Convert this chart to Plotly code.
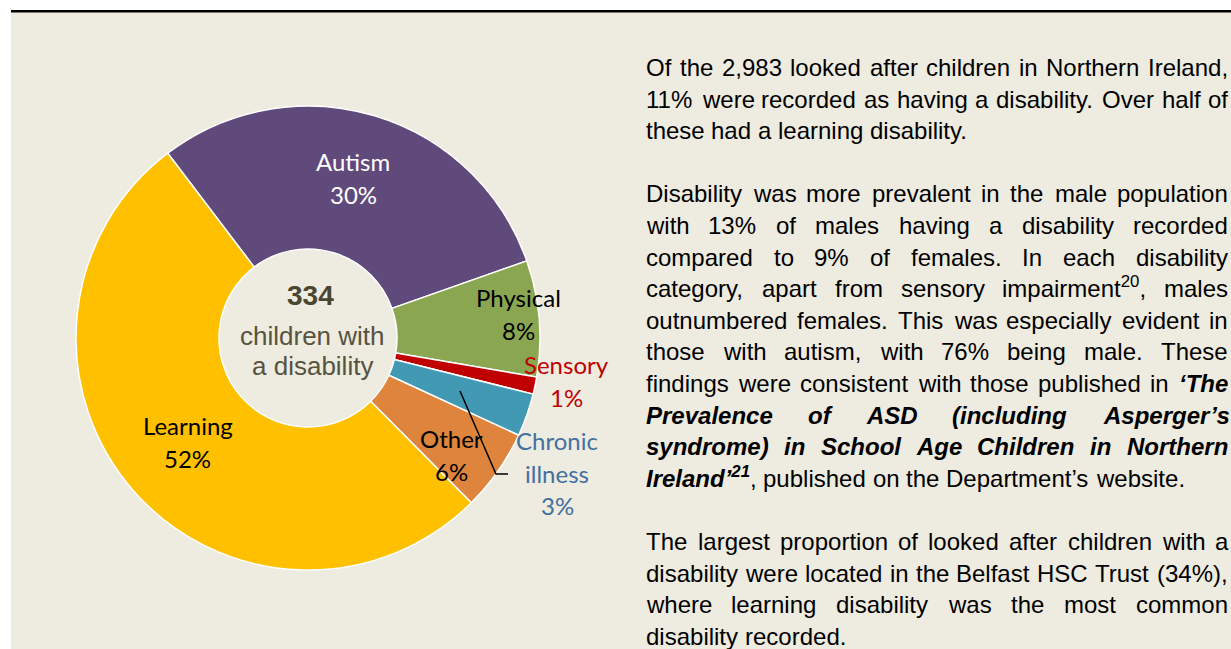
"""
Looked after children with a disability - donut chart with the report text
set beside it, rebuilt in Plotly.
"""

import plotly.graph_objects as go

W, H = 1231, 649

# ---------------------------------------------------------------------
# Data
# ---------------------------------------------------------------------
categories = ["Autism", "Physical", "Sensory", "Chronic illness", "Other", "Learning"]
counts = [100, 27, 4, 10, 19, 174]
TOTAL = sum(counts)  # 334

centre_lines = ["children with", "a disability"]

paragraphs = [
    [
        "Of the 2,983 looked after children in Northern Ireland,",
        "11% were recorded as having a disability. Over half of",
        "these had a learning disability.",
    ],
    [
        "Disability was more prevalent in the male population",
        "with 13% of males having a disability recorded",
        "compared to 9% of females. In each disability",
        "category, apart from sensory impairment^20^, males",
        "outnumbered females. This was especially evident in",
        "those with autism, with 76% being male. These",
        "findings were consistent with those published in *\u2018The*",
        "*Prevalence of ASD (including Asperger\u2019s*",
        "*syndrome) in School Age Children in Northern*",
        "*Ireland\u2019^21^*, published on the Department\u2019s website.",
    ],
    [
        "The largest proportion of looked after children with a",
        "disability were located in the Belfast HSC Trust (34%),",
        "where learning disability was the most common",
        "disability recorded.",
    ],
]

# ---------------------------------------------------------------------
# Theme
# ---------------------------------------------------------------------
BEIGE = "#EEEBE0"
SLICE_COLORS = ["#604A7B", "#8BA650", "#C00000", "#4299B4", "#DE843D", "#FFC000"]
LABEL_COLORS = ["#FFFFFF", "#000000", "#C00000", "#44709F", "#000000", "#000000"]
# label centre x, first baseline (px)
LABEL_POS = [(353, 171), (518, 307), (566, 374), (557, 450), (451, 448), (188, 435)]
LABEL_FONT = "Lato, sans-serif"
LABEL_FS = 24
LABEL_LEAD = 32.5

BODY_FONT = "Arial, Liberation Sans, sans-serif"
BODY_FS = 24
BODY_LEFT, BODY_RIGHT = 646, 1228
BODY_TOP = 76          # first baseline
BODY_LEAD = 31.6

CX, CY, R = 308, 338, 232
HOLE = 89 / 232

# Arial / Liberation Sans advance widths (1/1000 em)
LOW = "abcdefghijklmnopqrstuvwxyz"
UP = "ABCDEFGHIJKLMNOPQRSTUVWXYZ"
REG = dict(zip(LOW, [556, 556, 500, 556, 556, 278, 556, 556, 222, 222, 500, 222, 833,
                     556, 556, 556, 556, 333, 500, 278, 556, 500, 722, 500, 500, 500]))
REG.update(zip(UP, [667, 667, 722, 722, 667, 611, 778, 722, 278, 500, 667, 556, 833,
                    722, 778, 667, 778, 722, 667, 611, 722, 667, 944, 667, 667, 611]))
REG.update({" ": 278, ",": 278, ".": 278, "%": 889, "(": 333, ")": 333,
            "\u2018": 222, "\u2019": 222, "'": 191, "-": 333})
BOLD = dict(zip(LOW, [556, 611, 556, 611, 556, 333, 611, 611, 278, 278, 556, 278, 889,
                      611, 611, 611, 611, 389, 556, 333, 611, 556, 778, 556, 556, 500]))
BOLD.update(zip(UP, [722, 722, 722, 722, 667, 611, 778, 722, 278, 556, 722, 611, 833,
                     722, 778, 667, 778, 722, 667, 611, 722, 667, 944, 667, 667, 611]))
BOLD.update({" ": 278, ",": 278, ".": 278, "%": 889, "(": 333, ")": 333,
             "\u2018": 278, "\u2019": 278, "'": 238, "-": 333})
for d in "0123456789":
    REG[d] = BOLD[d] = 556

ARIAL_DESC = 0.212
LATO_DESC = 0.213


def parse_line(line):
    """Split a line into words of (text, bold, sup) runs.
    * toggles bold-italic, ^ toggles superscript; state carries across words."""
    words, runs, buf = [], [], ""
    bold = sup = False
    for ch in line + " ":
        if ch in "*^ ":
            if buf:
                runs.append((buf, bold, sup))
                buf = ""
            if ch == "*":
                bold = not bold
            elif ch == "^":
                sup = not sup
            elif runs:
                words.append(runs)
                runs = []
        else:
            buf += ch
    return words


def run_width(runs, fs):
    w = 0
    for text, bold, sup in runs:
        table = BOLD if bold else REG
        w += sum(table.get(c, 556) for c in text) * (0.7 if sup else 1.0)
    return w * fs / 1000


def run_markup(runs):
    out = ""
    for text, bold, sup in runs:
        if sup:
            text = f"<sup>{text}</sup>"
        if bold:
            text = f"<b><i>{text}</i></b>"
        out += text
    return out


def text_at(x, baseline, text, font, size, color, desc, xanchor="left"):
    return dict(
        x=x / W, y=1 - (baseline + desc * size) / H, xref="paper", yref="paper",
        xanchor=xanchor, yanchor="bottom", text=text, showarrow=False,
        borderpad=0, borderwidth=0, font=dict(family=font, size=size, color=color),
    )


fig = go.Figure(go.Pie(
    labels=categories, values=counts, sort=False, direction="clockwise",
    rotation=-37.2, hole=HOLE, textinfo="none", hoverinfo="label+value+percent",
    marker=dict(colors=SLICE_COLORS, line=dict(color="white", width=1.5)),
    domain=dict(x=[(CX - R) / W, (CX + R) / W], y=[1 - (CY + R) / H, 1 - (CY - R) / H]),
    showlegend=False,
))

annotations = []

# slice labels: name (split onto lines) + rounded share
for cat, n, (lx, lb), col in zip(categories, counts, LABEL_POS, LABEL_COLORS):
    lines = cat.split(" ") + [f"{round(100 * n / TOTAL)}%"]
    for k, line in enumerate(lines):
        annotations.append(text_at(lx, lb + k * LABEL_LEAD, line, LABEL_FONT,
                                   LABEL_FS, col, LATO_DESC, xanchor="center"))

# centre of the donut
annotations.append(text_at(310, 305, f"<b>{TOTAL}</b>", BODY_FONT, 28, "#4A4630",
                           ARIAL_DESC, xanchor="center"))
for k, line in enumerate(centre_lines):
    annotations.append(text_at(312, 345 + 30 * k, line, BODY_FONT, 26, "#57533F",
                               ARIAL_DESC, xanchor="center"))

# justified body text, one annotation per word
baseline = BODY_TOP
space = REG[" "] * BODY_FS / 1000
for para in paragraphs:
    for i, line in enumerate(para):
        words = parse_line(line)
        widths = [run_width(r, BODY_FS) for r in words]
        if i == len(para) - 1 or len(words) == 1:
            gap = space
        else:
            gap = (BODY_RIGHT - BODY_LEFT - sum(widths)) / (len(words) - 1)
        x = BODY_LEFT
        for r, w in zip(words, widths):
            annotations.append(text_at(x, baseline, run_markup(r), BODY_FONT,
                                       BODY_FS, "#000000", ARIAL_DESC))
            x += w + gap
        baseline += BODY_LEAD
    baseline += BODY_LEAD

shapes = [
    # white page margin above and left of the panel
    dict(type="rect", xref="paper", yref="paper", x0=0, x1=1, y0=1 - 10 / H, y1=1,
         fillcolor="white", line_width=0),
    dict(type="rect", xref="paper", yref="paper", x0=0, x1=11 / W, y0=0, y1=1,
         fillcolor="white", line_width=0),
    dict(type="line", xref="paper", yref="paper", x0=11 / W, x1=1,
         y0=1 - 11.2 / H, y1=1 - 11.2 / H, line=dict(color="black", width=2.5)),
    # leader line for the chronic illness label
    dict(type="path", xref="paper", yref="paper",
         path=f"M {460 / W},{1 - 391 / H} L {496 / W},{1 - 474 / H} L {508 / W},{1 - 474 / H}",
         line=dict(color="black", width=1.5)),
]

fig.update_layout(
    width=W, height=H, autosize=False,
    margin=dict(l=0, r=0, t=0, b=0),
    paper_bgcolor=BEIGE, plot_bgcolor=BEIGE,
    annotations=annotations, shapes=shapes,
)

fig.write_html(
    "out.html",
    config={"displayModeBar": False},
    post_script="document.body.style.margin='0';document.body.style.overflow='hidden';",
)
